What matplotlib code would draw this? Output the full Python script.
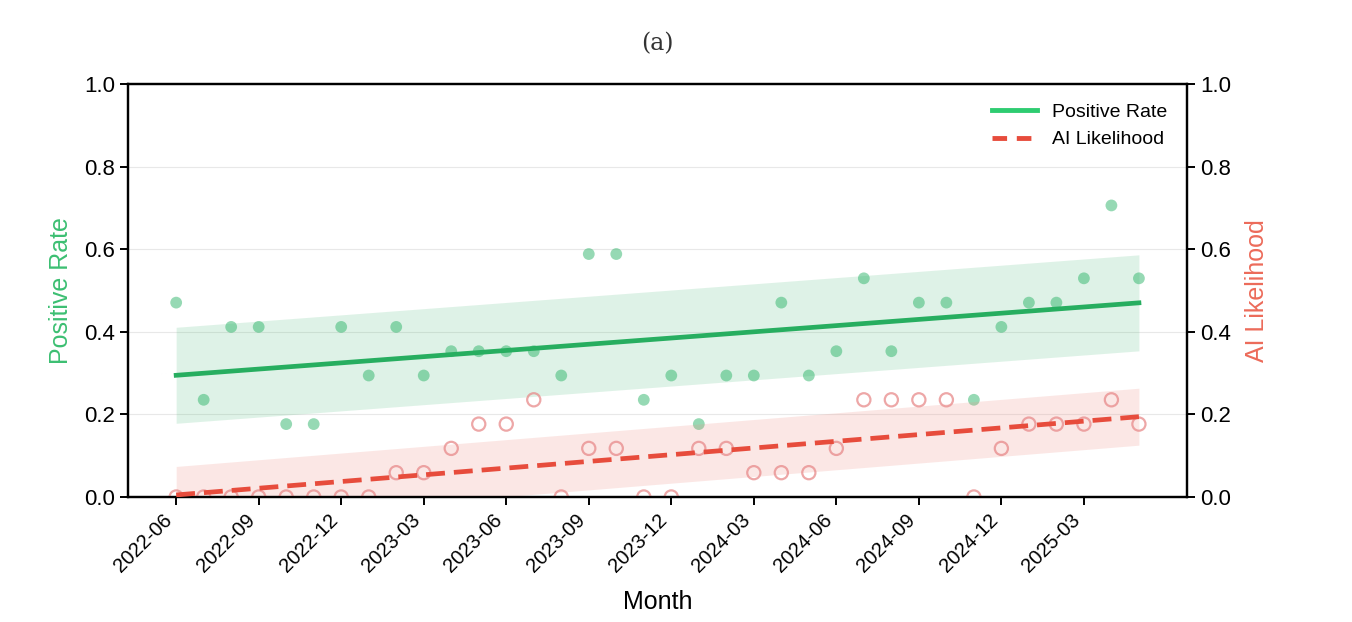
import numpy as np
import pandas as pd
import matplotlib
matplotlib.use("Agg")
import matplotlib.pyplot as plt
from matplotlib.lines import Line2D

months = pd.period_range("2022-06", "2025-05", freq="M").strftime("%Y-%m").tolist()
positive_rate = [8, 4, 7, 7, 3, 3, 7, 5, 7, 5, 6, 6, 6, 6, 5, 10, 10, 4, 5, 3,
                 5, 5, 8, 5, 6, 9, 6, 8, 8, 4, 7, 8, 8, 9, 12, 9]
ai_likelihood = [0, 0, 0, 0, 0, 0, 0, 0, 1, 1, 2, 3, 3, 4, 0, 2, 2, 0, 0, 2,
                 2, 1, 1, 1, 2, 4, 4, 4, 4, 0, 2, 3, 3, 3, 4, 3]
n_per_month = 17
pos = np.array(positive_rate) / n_per_month
ai = np.array(ai_likelihood) / n_per_month
tick_labels = months[::3]

GREEN = "#27ae60"
RED = "#e74c3c"

plt.rcParams["font.family"] = ["Liberation Sans", "DejaVu Sans"]

fig = plt.figure(figsize=(13.52, 6.22), dpi=100)
ax = fig.add_axes([0.0947, 0.201, 0.7833, 0.664])
ax2 = ax.twinx()

x = np.arange(len(months))

def trend(y):
    c = np.polyfit(x, y, 1)
    fit = np.polyval(c, x)
    sd = np.std(y - fit, ddof=2)
    return fit, sd

pfit, psd = trend(pos)
afit, asd = trend(ai)

ax.fill_between(x, pfit - psd, pfit + psd, color=GREEN, alpha=0.15, lw=0, zorder=1)
ax.scatter(x, pos, s=72, color="#2fb56a", alpha=0.5, edgecolors="none", zorder=2)
ax.plot(x, pfit, color=GREEN, lw=3.4, zorder=3)

ax2.fill_between(x, afit - asd, afit + asd, color="#f1948a", alpha=0.22, lw=0, zorder=1)
ax2.scatter(x, ai, s=90, facecolors="none", edgecolors="#e88a8a", alpha=0.75,
            linewidths=1.6, zorder=2)
ax2.plot(x, afit, color=RED, lw=3.4, ls=(0, (4, 1.9)), zorder=3)

for a in (ax, ax2):
    a.set_ylim(0, 1)
    a.set_yticks([0, 0.2, 0.4, 0.6, 0.8, 1.0])
    a.tick_params(axis="y", labelsize=16, length=6, width=1.4)
    for s in a.spines.values():
        s.set_linewidth(1.6)

ax.yaxis.grid(True, color="#e8e8e8", lw=0.8)
ax.set_axisbelow(True)
ax.set_xticks(x[::3])
ax.set_xticklabels(tick_labels, rotation=45, ha="right", fontsize=14.5)
ax.tick_params(axis="x", length=6, width=1.4)

ax.set_xlabel("Month", fontsize=18, labelpad=10)
ax.set_ylabel("Positive Rate", fontsize=18, color="#3cbf72", labelpad=8)
ax2.set_ylabel("AI Likelihood", fontsize=18, color="#ec6b5a", labelpad=10)

fig.text(0.486, 0.93, "(a)", ha="center", va="center", fontsize=17,
         family=["DejaVu Serif"], color="#333333")

handles = [Line2D([], [], color="#2ecc71", lw=3.5),
           Line2D([], [], color=RED, lw=3.5, ls=(0, (3, 2)))]
ax2.legend(handles, ["Positive Rate", "AI Likelihood"], loc="upper right",
           frameon=False, fontsize=14, handlelength=2.3, borderaxespad=0.6)

fig.savefig("out.png", dpi=100)
